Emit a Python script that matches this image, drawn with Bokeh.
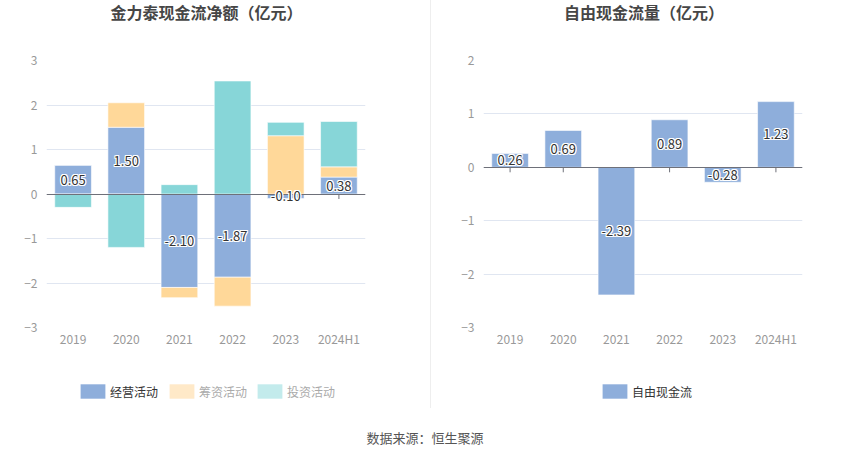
from bokeh.plotting import figure
from bokeh.models import (FactorRange, Range1d, FixedTicker, Legend, LegendItem,
                          ColumnDataSource, Div)
from bokeh.layouts import row, column
from bokeh.embed import file_html
from bokeh.resources import INLINE
from bokeh.core.properties import value

# ---------------- data ----------------
categories = ["2019", "2020", "2021", "2022", "2023", "2024H1"]
operating = [0.65, 1.50, -2.10, -1.87, -0.10, 0.38]
financing = [0.00, 0.55, -0.23, -0.65, 1.31, 0.23]
investing = [-0.30, -1.20, 0.21, 2.54, 0.30, 1.02]
free_cf = [0.26, 0.69, -2.39, 0.89, -0.28, 1.23]

left_title = "金力泰现金流净额（亿元）"
right_title = "自由现金流量（亿元）"
series_names = ["经营活动", "筹资活动", "投资活动"]
free_name = "自由现金流"
source_text = "数据来源：恒生聚源"
left_yticks = [-3, -2, -1, 0, 1, 2, 3]
right_yticks = [-3, -2, -1, 0, 1, 2]

# ---------------- style ----------------
FONT = "Noto Sans CJK SC"
C_OP, C_FIN, C_INV = "#8eaedb", "#ffd899", "#87d6d8"
C_FIN_L, C_INV_L = "#ffe9c8", "#c3ebec"
GRID = "#e0e6f1"
AXIS_TXT = "#999999"
BAR_W = 0.69
LW, RW = 430, 419


def base_fig(ylo, yhi, ticks, width, bl, br, ppu_tick):
    p = figure(x_range=FactorRange(*categories, range_padding=0),
               y_range=Range1d(ylo, yhi), width=width, height=335,
               output_backend="svg", toolbar_location=None,
               min_border_left=bl, min_border_right=br,
               min_border_top=20, min_border_bottom=48)
    p.outline_line_color = None
    p.xgrid.grid_line_color = None
    p.ygrid.grid_line_color = GRID
    p.yaxis.ticker = FixedTicker(ticks=ticks)
    for ax in (p.xaxis, p.yaxis):
        ax.axis_line_color = None
        ax.major_tick_line_color = None
        ax.minor_tick_line_color = None
        ax.major_tick_out = 0
        ax.major_tick_in = 0
        ax.major_label_text_color = AXIS_TXT
        ax.major_label_text_font = FONT
        ax.major_label_text_font_size = "12px"
    p.yaxis.major_label_standoff = 9
    p.xaxis.major_label_standoff = 2
    # category ticks hanging from the zero line
    p.segment(x0=categories, x1=categories, y0=[0] * 6, y1=[-ppu_tick] * 6,
              line_color="#6e7079", line_width=1)
    return p


def add_labels(p, vals):
    ys = [v / 2 for v in vals]
    txt = ["%.2f" % v for v in vals]
    for dx in (-1, 0, 1):
        for dy in (-1, 0, 1):
            if dx == 0 and dy == 0:
                continue
            p.text(x=categories, y=ys, text=txt, text_align="center",
                   text_baseline="middle", text_font=value(FONT),
                   text_font_size="13px", text_color="white",
                   x_offset=dx, y_offset=dy)
    p.text(x=categories, y=ys, text=txt, text_align="center",
           text_baseline="middle", text_font=value(FONT),
           text_font_size="13px", text_color="#333333")


def legend_fig(width, entries):
    lf = figure(width=width, height=33, x_range=Range1d(0, 1),
                y_range=Range1d(0, 1), x_axis_location=None,
                y_axis_location=None, min_border=0, output_backend="svg",
                toolbar_location=None)
    lf.outline_line_color = None
    lf.grid.visible = False
    # helper swatch source placed outside the visible range
    helper = ColumnDataSource(data=dict(x=[-5], top=[-5]))
    for label, color, tcolor, xpos in entries:
        r = lf.vbar(x="x", top="top", width=0.1, source=helper,
                    fill_color=color, line_color=None)
        lg = Legend(items=[LegendItem(label=label, renderers=[r])],
                    location=(xpos - 3, 8), orientation="horizontal",
                    border_line_color=None, background_fill_alpha=0,
                    padding=0, margin=0, glyph_width=31, glyph_height=18,
                    label_standoff=2, label_text_font=FONT,
                    label_text_font_size="12px", label_text_color=tcolor,
                    label_height=18)
        lf.add_layout(lg, "center")
    return lf


def title_div(text, width, pad_left, pad_right):
    html = ("<div style='box-sizing:border-box;width:%dpx;padding-left:%dpx;"
            "padding-right:%dpx;text-align:center;font-family:\"%s\";"
            "font-size:16px;font-weight:bold;color:#464646;"
            "line-height:16px;margin-top:4px;white-space:nowrap'>%s</div>"
            % (width, pad_left, pad_right, FONT, text))
    return Div(text=html, width=width, height=40, margin=0)


# ---------------- left chart: stacked ----------------
pos = [0.0] * 6
neg = [0.0] * 6
stacks = []
for vals in (operating, financing, investing):
    bottoms, tops = [], []
    for i, v in enumerate(vals):
        if v >= 0:
            bottoms.append(pos[i]); tops.append(pos[i] + v); pos[i] += v
        else:
            tops.append(neg[i]); bottoms.append(neg[i] + v); neg[i] += v
    stacks.append((bottoms, tops))

left = base_fig(-3, 3, left_yticks, LW, 46, 65, 5 / 44.5)
colors = [C_OP, C_FIN, C_INV]
for (b, t), c in zip(stacks, colors):
    left.vbar(x=categories, bottom=b, top=t, width=BAR_W, fill_color=c,
              line_color="white", line_width=0.6)
left.hspan(y=[0], line_color="#6e7079", line_width=1)
add_labels(left, operating)

leg_left = legend_fig(LW, [(series_names[0], C_OP, "#333333", 34),
                           (series_names[1], C_FIN_L, "#aaaaaa", 123),
                           (series_names[2], C_INV_L, "#aaaaaa", 211)])

# ---------------- right chart ----------------
right = base_fig(-3, 2, right_yticks, RW, 52, 48, 5 / 53.4)
right.vbar(x=categories, top=free_cf, bottom=0, width=BAR_W,
           fill_color=C_OP, line_color="white", line_width=0.6)
right.hspan(y=[0], line_color="#6e7079", line_width=1)
add_labels(right, free_cf)

leg_right = legend_fig(RW, [(free_name, C_OP, "#333333", 119)])

divider = Div(text="", width=1, height=408, margin=0,
              styles={"background-color": "#eeeeee"})
src = Div(text=source_text, width=850, height=51, margin=0,
          styles={"text-align": "center", "font-family": FONT,
                  "font-size": "13px", "color": "#555555",
                  "line-height": "60px", "width": "850px"})

col_left = column(title_div(left_title, LW, 0, 17), left, leg_left)
col_right = column(title_div(right_title, RW, 7, 0), right, leg_right)
layout = column(row(col_left, divider, col_right), src)
open("out.html", "w").write(file_html(layout, INLINE))
